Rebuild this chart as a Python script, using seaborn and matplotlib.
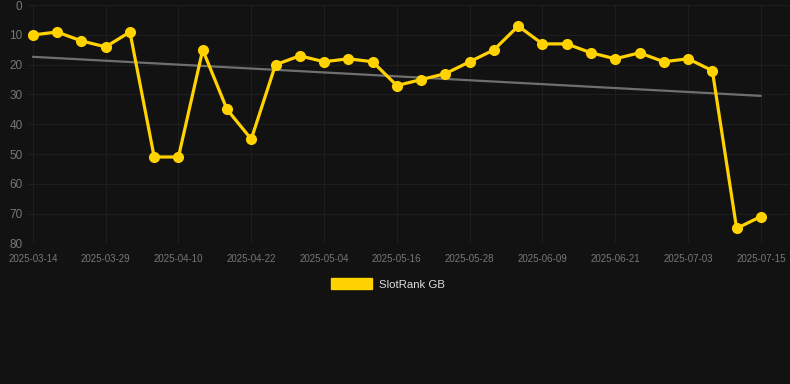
import numpy as np
import pandas as pd
import seaborn as sns
import matplotlib.pyplot as plt
from matplotlib.patches import Patch

# Data (rank, lower is better)
dates = ['2025-03-14', '2025-03-19', '2025-03-24', '2025-03-29', '2025-04-02',
         '2025-04-06', '2025-04-10', '2025-04-14', '2025-04-18', '2025-04-22',
         '2025-04-26', '2025-04-30', '2025-05-04', '2025-05-08', '2025-05-12',
         '2025-05-16', '2025-05-20', '2025-05-24', '2025-05-28', '2025-06-01',
         '2025-06-05', '2025-06-09', '2025-06-13', '2025-06-17', '2025-06-21',
         '2025-06-25', '2025-06-29', '2025-07-03', '2025-07-07', '2025-07-11',
         '2025-07-15']
ranks = [10, 9, 12, 14, 9, 51, 51, 15, 35, 45, 20, 17, 19, 18, 19, 27, 25, 23,
         19, 15, 7, 13, 13, 16, 18, 16, 19, 18, 22, 75, 71]
series_name = 'SlotRank GB'
y_ticks = [0, 10, 20, 30, 40, 50, 60, 70, 80]

bg = '#121212'
yellow = '#FFD200'

df = pd.DataFrame({'idx': np.arange(len(dates)), 'date': dates, 'rank': ranks})

sns.set_theme(style='dark')
plt.rcParams['font.family'] = ['Liberation Sans', 'DejaVu Sans']

fig = plt.figure(figsize=(7.9, 3.84), dpi=100, facecolor=bg)
ax = fig.add_axes([28 / 790, 1 - 243.3 / 384, 762 / 790, 238.1 / 384])
ax.set_facecolor(bg)

# Trend line (linear fit)
sns.regplot(data=df, x='idx', y='rank', scatter=False, ci=None, ax=ax,
            line_kws={'color': '#6f6f6f', 'linewidth': 1.6, 'zorder': 2})

sns.lineplot(data=df, x='idx', y='rank', ax=ax, color=yellow, linewidth=2.3,
             marker='o', markersize=8, markeredgewidth=0, zorder=3)

ax.set_xlim(-0.2, 31.2)
ax.set_ylim(80, 0)
ax.set_yticks(y_ticks)
tick_idx = list(range(0, len(dates), 3))
ax.set_xticks(tick_idx)
ax.set_xticklabels([dates[i] for i in tick_idx])
ax.set_xlabel('')
ax.set_ylabel('')

ax.grid(True, color='#1e1e1e', linewidth=0.8)
for s in ax.spines.values():
    s.set_visible(False)
ax.tick_params(axis='y', length=0, pad=4, labelsize=8.5, labelcolor='#777777')
ax.tick_params(axis='x', length=0, pad=8, labelsize=7, labelcolor='#777777')

fig.legend(handles=[Patch(color=yellow, label=series_name)], loc='center',
           bbox_to_anchor=(388 / 790, 1 - 284 / 384), frameon=False,
           fontsize=8.2, labelcolor='#dddddd', handlelength=3.6,
           handleheight=1.1, handletextpad=0.55)

fig.savefig('out.png', dpi=100, facecolor=bg)
